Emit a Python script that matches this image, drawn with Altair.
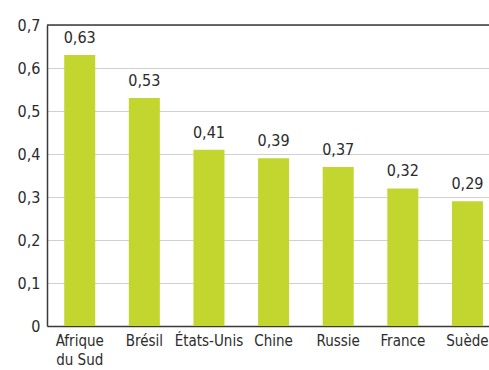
import altair as alt
import pandas as pd

categories = ["Afrique|du Sud", "Brésil", "États-Unis", "Chine", "Russie", "France", "Suède"]
values = [0.63, 0.53, 0.41, 0.39, 0.37, 0.32, 0.29]

df = pd.DataFrame({"pays": categories, "valeur": values})
FONT = "DejaVu Sans Condensed"
TXT = "#2b2b2b"

x = alt.X("pays:N", sort=categories, title=None,
          scale=alt.Scale(paddingInner=0.52, paddingOuter=0.18, align=0.74),
          axis=alt.Axis(labelAngle=0, ticks=False, domain=True, domainColor="#3a3a3a",
                        domainWidth=1.5, labelFont=FONT, labelFontSize=15, labelColor=TXT,
                        labelPadding=7, labelExpr="split(datum.label, '|')", labelLineHeight=19,
                        grid=False))
y = alt.Y("valeur:Q", title=None,
          scale=alt.Scale(domain=[0, 0.7], nice=False),
          axis=alt.Axis(values=[0, 0.1, 0.2, 0.3, 0.4, 0.5, 0.6, 0.7], ticks=False,
                        domainColor="#3a3a3a", domainWidth=1.5, gridColor="#d0d0d0", gridWidth=1.2,
                        labelFont=FONT, labelFontSize=16, labelColor=TXT, labelPadding=7,
                        labelExpr="datum.value == 0 ? '0' : replace(format(datum.value, '.1f'), '.', ',')"))

bars = alt.Chart(df).mark_bar(color="#c2d62f").encode(x=x, y=y)
text = alt.Chart(df).transform_calculate(
    lab="replace(format(datum.valeur, '.2f'), '.', ',')"
).mark_text(dy=-9, baseline="bottom", font=FONT, fontSize=16, color=TXT).encode(
    x=alt.X("pays:N", sort=categories), y="valeur:Q", text="lab:N")
top = alt.Chart(pd.DataFrame({"t": [0.7]})).mark_rule(color="#3a3a3a", strokeWidth=1.5).encode(y="t:Q")

chart = alt.layer(bars, text, top).properties(
    width=442, height=301,
    autosize=alt.AutoSizeParams(type="none"),
    padding={"left": 47, "top": 25, "right": 0, "bottom": 44},
).configure_view(stroke=None)

chart.save("out.html", embed_options={"renderer": "svg", "actions": False})
